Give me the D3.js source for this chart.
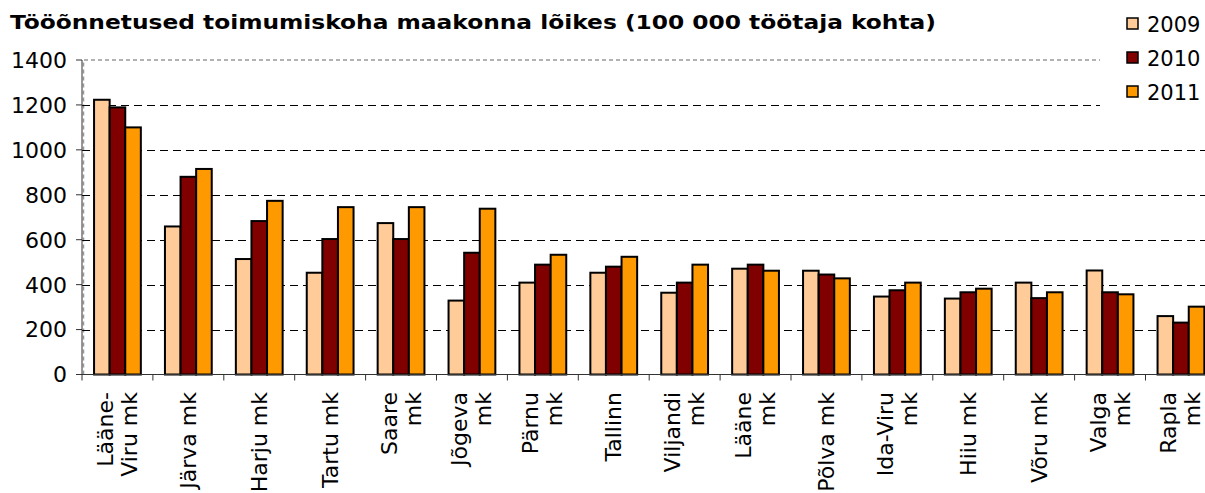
<!DOCTYPE html>
<html>
<head>
<meta charset="utf-8">
<script src="https://cdn.jsdelivr.net/npm/d3@7"></script>
<style>
  body { margin: 0; background: #fff; }
  svg { display: block; font-family: "DejaVu Sans", Verdana, sans-serif; }
</style>
</head>
<body>
<div class="canvas"></div>
<script>
// data
const categories = [
  'Lääne-\nViru mk', 'Järva mk', 'Harju mk', 'Tartu mk', 'Saare\nmk', 'Jõgeva\nmk',
  'Pärnu\nmk', 'Tallinn', 'Viljandi\nmk', 'Lääne\nmk', 'Põlva mk', 'Ida-Viru\nmk',
  'Hiiu mk', 'Võru mk', 'Valga\nmk', 'Rapla\nmk'
];
const years = ['2009', '2010', '2011'];
const values2009 = [1223, 659, 514, 453, 674, 329, 409, 453, 364, 471, 462, 347, 338, 409, 463, 260];
const values2010 = [1189, 880, 683, 603, 603, 542, 489, 480, 409, 489, 445, 375, 366, 340, 366, 231];
const values2011 = [1100, 915, 773, 745, 745, 738, 533, 524, 489, 462, 428, 409, 382, 366, 357, 302];
const yTicks = [0, 200, 400, 600, 800, 1000, 1200, 1400];
const colors = ['#FFCC99', '#800000', '#FF9900'];
const title = 'Tööõnnetused toimumiskoha maakonna lõikes (100 000 töötaja kohta)';

const dims = { w: 1205, h: 493 };
const plot = { left: 82, top: 60, bottom: 374.5, right: 82 + 16 * 70.9 };

const svg = d3.select('.canvas')
  .append('svg')
    .attr('width', dims.w)
    .attr('height', dims.h);

// scales
const x = d3.scaleBand()
  .domain(categories)
  .range([plot.left, plot.right])
  .paddingInner(0.34)
  .paddingOuter(0.17);

const xSeries = d3.scaleBand()
  .domain(years)
  .range([0, x.bandwidth()]);

const y = d3.scaleLinear()
  .domain([0, 1400])
  .range([plot.bottom, plot.top]);

const color = d3.scaleOrdinal().domain(years).range(colors);

// plot border (dotted grey)
svg.append('path')
  .attr('d', `M${plot.left + 1.5},${plot.bottom} V${plot.top} H${dims.w}`)
  .attr('fill', 'none')
  .attr('stroke', '#999')
  .attr('stroke-width', 1.5)
  .attr('stroke-dasharray', '4,3');

// gridlines
svg.append('g')
  .selectAll('line')
  .data(yTicks.filter(d => d > 0 && d < 1400))
  .join('line')
    .attr('x1', plot.left)
    .attr('x2', dims.w)
    .attr('y1', d => Math.round(y(d)) + 0.5)
    .attr('y2', d => Math.round(y(d)) + 0.5)
    .attr('stroke', '#000')
    .attr('stroke-dasharray', '8,5');

// bars
const series = [values2009, values2010, values2011];
const barData = [];
categories.forEach((c, i) => {
  years.forEach((yr, j) => barData.push({ cat: c, year: yr, value: series[j][i] }));
});

svg.append('g')
  .selectAll('rect')
  .data(barData)
  .join('rect')
    .attr('x', d => x(d.cat) + xSeries(d.year))
    .attr('y', d => y(d.value))
    .attr('width', xSeries.bandwidth())
    .attr('height', d => y(0) - y(d.value))
    .attr('fill', d => color(d.year))
    .attr('stroke', '#000')
    .attr('stroke-width', 2);

// y axis
const yAxis = svg.append('g');
yAxis.append('line')
  .attr('x1', plot.left).attr('x2', plot.left)
  .attr('y1', plot.top).attr('y2', plot.bottom)
  .attr('stroke', '#333');
yAxis.selectAll('.tick')
  .data(yTicks)
  .join('line')
    .attr('x1', plot.left - 6).attr('x2', plot.left)
    .attr('y1', d => y(d)).attr('y2', d => y(d))
    .attr('stroke', '#333');
yAxis.selectAll('text')
  .data(yTicks)
  .join('text')
    .attr('x', 67)
    .attr('y', d => y(d))
    .attr('dy', '0.36em')
    .attr('text-anchor', 'end')
    .attr('font-size', 22)
    .text(d => d);

// x axis
const step = x.step();
const xAxis = svg.append('g');
xAxis.append('line')
  .attr('x1', plot.left).attr('x2', dims.w)
  .attr('y1', plot.bottom).attr('y2', plot.bottom)
  .attr('stroke', '#333');
xAxis.selectAll('.tick')
  .data(d3.range(categories.length + 1))
  .join('line')
    .attr('x1', i => plot.left + i * step)
    .attr('x2', i => plot.left + i * step)
    .attr('y1', plot.bottom).attr('y2', plot.bottom + 6)
    .attr('stroke', '#333');

// rotated category labels
const lineH = 24;
xAxis.selectAll('.label')
  .data(categories)
  .join('text')
    .attr('transform', d => `translate(${x(d) + x.bandwidth() / 2},392) rotate(-90)`)
    .attr('text-anchor', 'end')
    .attr('font-size', 22)
    .each(function(d) {
      const lines = d.split('\n');
      const off = -(lines.length - 1) * lineH / 2;
      d3.select(this).selectAll('tspan')
        .data(lines)
        .join('tspan')
          .attr('x', 0)
          .attr('y', (l, k) => off + k * lineH)
          .attr('dy', '0.34em')
          .text(l => l);
    });

// title
svg.append('text')
  .attr('x', 10)
  .attr('y', 29)
  .attr('font-size', 20)
  .attr('font-weight', 'bold')
  .attr('textLength', 926)
  .attr('lengthAdjust', 'spacingAndGlyphs')
  .text(title);

// legend (white box covers gridlines behind it)
svg.append('rect')
  .attr('x', 1100)
  .attr('y', 0)
  .attr('width', dims.w - 1100)
  .attr('height', 112)
  .attr('fill', '#fff');

const legend = svg.append('g')
  .selectAll('g')
  .data(years)
  .join('g')
    .attr('transform', (d, i) => `translate(1127,${18 + i * 34})`);

legend.append('rect')
  .attr('width', 11)
  .attr('height', 11)
  .attr('fill', d => color(d))
  .attr('stroke', '#000')
  .attr('stroke-width', 1.5);

legend.append('text')
  .attr('x', 20)
  .attr('y', 6)
  .attr('dy', '0.36em')
  .attr('font-size', 21)
  .text(d => d);
</script>
</body>
</html>
